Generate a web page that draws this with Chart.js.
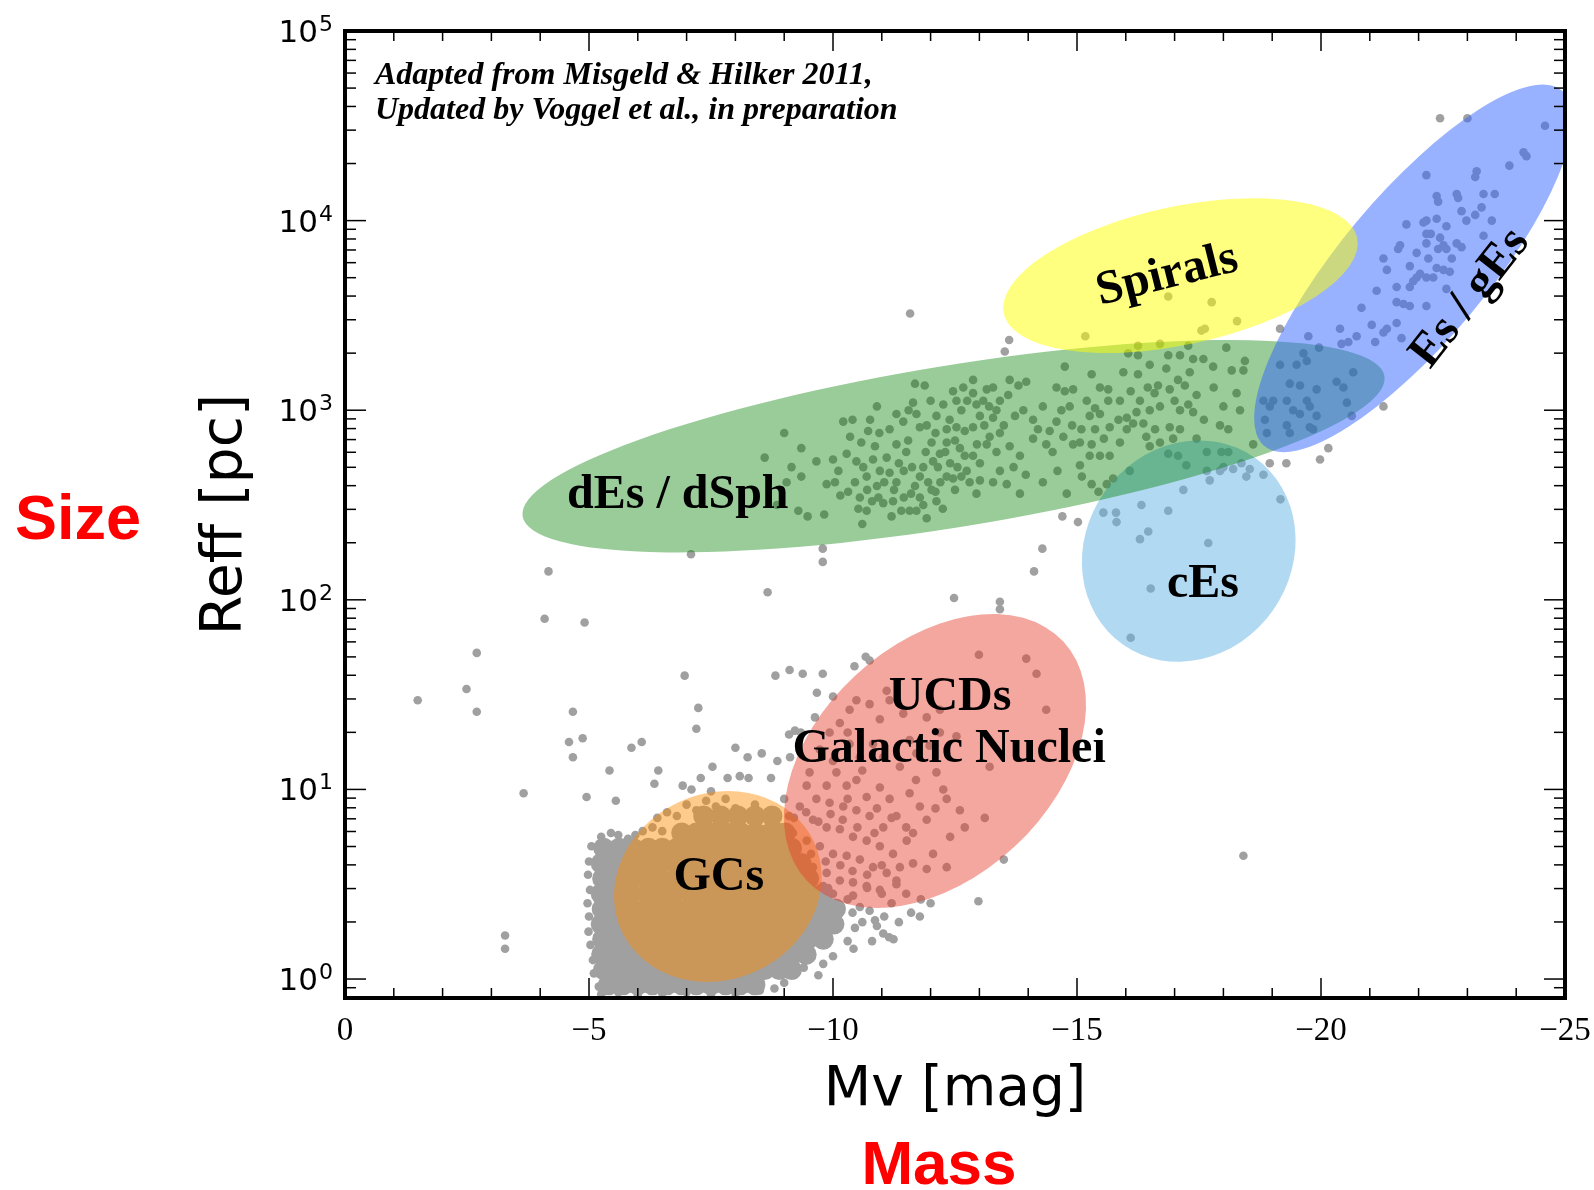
<!DOCTYPE html>
<html>
<head>
<meta charset="utf-8">
<title>Size vs Mass</title>
<script src="https://cdn.jsdelivr.net/npm/chart.js@4.4.1/dist/chart.umd.min.js"></script>
<style>
  html, body { margin: 0; padding: 0; background: #fff; }
  canvas { display: block; }
</style>
</head>
<body>
<canvas id="sizeMass" width="1594" height="1190"></canvas>
<script>
// all points are [Mv, log10 Reff]

// isolated objects outside the main clouds
const fieldPts = [
  [-1.49,1.47],[-2.49,1.53],[-2.70,1.41],[-2.70,1.72],[-3.28,0.23],[-3.28,0.16],[-3.66,0.98],
  [-4.17,2.15],[-4.09,1.90],[-4.91,1.88],[-4.67,1.41],[-4.59,1.25],[-4.87,1.27],[-4.67,1.17],
  [-4.95,0.96],[-5.55,0.94],[-5.42,1.10],[-5.87,1.22],[-6.08,1.25],[-6.42,1.10],[-6.34,1.03],
  [-6.96,1.60],[-7.24,1.43],[-7.20,1.32],[-7.53,1.12],[-7.29,1.06],[-6.92,1.02],[-8.00,1.22],
  [-8.25,1.17],[-8.54,1.19],[-7.84,1.06],[-8.09,1.07],[-8.27,1.06],[-8.73,1.06],[-8.82,1.60],
  [-9.11,1.63],[-9.38,1.61],[-9.79,1.61],[-9.67,1.51],[-9.63,1.38],[-8.86,1.15],[-9.10,1.29],
  [-9.34,1.30],[-8.66,2.04],[-9.79,2.27],[-9.79,2.20],[-7.09,2.24],[-11.58,3.51],[-12.48,2.01],
  [-13.42,1.99],[-13.42,1.95],[-13.50,0.63],[-12.98,0.41],[-18.41,0.65],[-13.61,3.37],[-13.52,3.31],
  [-22.44,4.54],[-10.67,1.70],[-10.44,1.65],[-10.00,1.49]
];

// globular clusters: dense core (drawn with big dots) and ragged edges
const gcCoreLogR = [0.86, 0.77, 0.69, 0.61, 0.53, 0.45, 0.37, 0.29, 0.21, 0.13, 0.05, -0.03];
const gcCoreMv = [
  [-7.35,-7.70,-8.05,-8.40,-8.75],
  [-6.90,-7.20,-7.50,-7.82,-8.12,-8.42,-8.72,-9.02],
  [-5.30,-5.62,-5.90,-6.22,-6.50,-6.80,-7.12,-7.40,-7.70,-8.02,-8.30,-8.62,-8.90,-9.15],
  [-5.25,-5.55,-5.85,-6.15,-6.45,-6.78,-7.05,-7.35,-7.68,-7.95,-8.28,-8.55,-8.85,-9.15,-9.35],
  [-5.28,-5.58,-5.88,-6.20,-6.48,-6.80,-7.10,-7.42,-7.70,-8.00,-8.32,-8.60,-8.92,-9.20,-9.50],
  [-5.25,-5.55,-5.85,-6.18,-6.45,-6.75,-7.08,-7.38,-7.66,-7.98,-8.28,-8.58,-8.88,-9.18,-9.48,-9.80],
  [-5.27,-5.57,-5.87,-6.17,-6.47,-6.78,-7.07,-7.37,-7.68,-7.97,-8.27,-8.57,-8.87,-9.17,-9.47,-9.77,-10.05],
  [-5.25,-5.56,-5.86,-6.16,-6.46,-6.76,-7.06,-7.36,-7.66,-7.96,-8.26,-8.56,-8.86,-9.16,-9.46,-9.76,-10.02],
  [-5.28,-5.58,-5.88,-6.18,-6.48,-6.78,-7.08,-7.38,-7.68,-7.98,-8.28,-8.58,-8.88,-9.18,-9.48,-9.80],
  [-5.26,-5.56,-5.86,-6.16,-6.46,-6.76,-7.06,-7.36,-7.66,-7.96,-8.26,-8.56,-8.86,-9.16,-9.45],
  [-5.30,-5.60,-5.90,-6.20,-6.50,-6.80,-7.10,-7.40,-7.70,-8.00,-8.30,-8.60,-8.90,-9.15],
  [-5.40,-5.70,-6.00,-6.30,-6.60,-6.90,-7.20,-7.50,-7.80,-8.10,-8.40]
];
const gcPts = [
  [-5.05,0.70],[-5.00,0.62],[-4.98,0.55],[-5.02,0.47],[-4.97,0.40],[-5.00,0.33],[-4.99,0.25],
  [-5.03,0.18],[-5.08,0.10],[-5.10,0.03],[-5.20,-0.04],[-5.25,-0.08],
  [-5.25,0.75],[-5.45,0.77],[-5.60,0.76],[-5.80,0.74],[-5.95,0.76],[-6.10,0.78],[-6.30,0.80],
  [-6.40,0.85],[-6.60,0.88],[-6.80,0.86],[-7.00,0.92],[-7.20,0.89],[-7.40,0.94],[-7.60,0.91],
  [-7.80,0.95],[-8.00,0.90],[-8.20,0.87],[-8.40,0.92],[-8.60,0.85],[-8.80,0.88],[-6.90,0.80],
  [-7.30,0.82],[-7.70,0.80],[-8.10,0.79],[-8.50,0.78],[-6.50,0.78],[-8.90,0.80],[-9.10,0.86],
  [-9.00,0.95],[-7.50,0.99],[-7.10,1.00],
  [-5.60,-0.07],[-6.00,-0.08],[-6.50,-0.075],[-7.00,-0.07],[-7.50,-0.08],[-8.00,-0.075],
  [-8.50,-0.06],[-8.80,-0.05],[-9.00,-0.02],[-9.20,0.02],[-9.40,0.06],
  [-10.30,0.42],[-10.40,0.35],[-10.45,0.27],[-10.30,0.20],[-10.42,0.16],[-10.60,0.30],[-10.75,0.36],
  [-10.90,0.28],[-11.05,0.33],[-11.20,0.40],[-10.80,0.20],[-11.35,0.30],[-11.15,0.22],[-9.80,0.08],
  [-10.00,0.12],[-9.70,0.02],[-11.60,0.35],[-11.50,0.45],[-11.80,0.42],[-11.30,0.50],[-11.00,0.45],
  [-10.70,0.48],[-12.00,0.40],[-11.78,0.33],[-11.03,0.24],[-11.24,0.21],[-10.86,0.31],[-10.55,0.38]
];

// ultra compact dwarfs and nuclei
const ucdPts = [
  [-12.99,1.71],[-13.96,1.69],[-14.17,1.61],[-14.37,1.42],[-13.21,1.12],[-12.60,0.89],[-13.11,0.85],
  [-12.26,1.00],[-12.33,0.95],[-12.12,1.09],[-11.98,1.23],[-11.57,1.26],[-12.19,1.30],[-12.53,1.28],
  [-11.71,1.19],[-11.37,1.12],[-11.03,1.17],[-10.82,1.24],[-10.55,1.17],[-10.34,1.24],[-10.96,1.37],
  [-10.75,1.45],[-10.48,1.47],[-10.34,1.42],[-10.14,1.35],[-9.93,1.30],[-9.73,1.21],[-9.52,1.09],
  [-9.87,1.02],[-10.07,1.09],[-10.28,1.02],[-10.48,1.05],[-10.69,0.96],[-10.96,1.01],[-11.16,0.95],
  [-11.30,0.86],[-11.03,0.80],[-10.75,0.86],[-10.48,0.89],[-10.21,0.91],[-9.93,0.93],[-9.66,0.95],
  [-9.46,1.02],[-9.32,0.91],[-9.59,0.84],[-9.87,0.80],[-10.14,0.79],[-10.41,0.75],[-10.69,0.73],
  [-10.96,0.70],[-11.23,0.66],[-11.51,0.73],[-11.64,0.77],[-11.92,0.84],[-11.78,0.91],[-11.57,0.98],
  [-12.05,0.66],[-12.33,0.59],[-11.92,0.58],[-11.64,0.61],[-11.37,0.59],[-11.10,0.56],[-10.82,0.59],
  [-10.55,0.63],[-10.28,0.65],[-10.00,0.66],[-9.73,0.70],[-9.46,0.73],[-9.18,0.77],[-9.32,0.63],
  [-9.59,0.59],[-9.87,0.56],[-10.14,0.52],[-10.41,0.51],[-10.69,0.49],[-10.96,0.47],[-10.41,0.44],
  [-10.00,0.45],[-9.80,0.49],[-9.59,0.45],[-9.32,0.49],[-9.12,0.56],[-12.19,1.42],[-11.92,1.38],
  [-11.44,1.40],[-11.16,1.47],[-9.22,1.31],[-9.12,1.17],[-10.75,1.68],[-11.10,1.52],
  [-9.20,0.85],[-9.45,0.88],[-9.70,0.83],[-9.95,0.87],[-10.20,0.84],[-10.50,0.80],[-10.85,0.77],
  [-9.25,0.70],[-9.55,0.66],[-9.85,0.62],[-10.15,0.60],[-10.40,0.57],[-10.70,0.55],[-11.00,0.60],
  [-11.30,0.52],[-9.60,0.52],[-9.90,0.48],[-10.30,0.95],[-10.60,1.10],[-10.90,0.90],[-11.20,0.85],
  [-11.50,0.80],[-11.70,1.05],[-12.10,0.90],[-12.40,0.75],[-12.70,0.80],[-10.00,1.15],[-10.30,1.30]
];

// dwarf ellipticals / spheroidals
const dwarfPts = [
  [-8.60,2.75],[-9.05,2.62],[-8.85,2.50],[-9.00,2.88],[-9.15,2.70],
  [-9.35,2.80],[-9.35,2.65],[-9.29,2.47],[-9.48,2.44],[-9.82,2.45],[-9.66,2.73],[-10.00,2.74],
  [-10.21,2.94],[-10.40,2.95],[-10.76,2.95],[-10.72,2.89],[-10.58,2.83],[-10.28,2.77],[-10.48,2.73],
  [-10.11,2.68],[-9.87,2.61],[-10.04,2.62],[-10.31,2.57],[-10.55,2.54],[-10.52,2.48],[-10.69,2.47],
  [-10.93,2.54],[-11.03,2.51],[-11.23,2.52],[-11.30,2.62],[-11.16,2.67],[-10.96,2.68],[-10.82,2.74],
  [-10.69,2.65],[-10.86,2.81],[-11.16,2.90],[-11.30,2.82],[-11.44,2.94],[-11.54,2.84],[-11.64,3.04],
  [-11.68,3.14],[-11.88,3.13],[-11.71,2.98],[-11.78,2.91],[-11.92,2.92],[-12.02,2.83],[-12.12,2.97],
  [-12.26,3.03],[-12.33,2.90],[-12.39,2.95],[-12.46,3.10],[-12.53,3.05],[-12.63,3.00],[-12.67,3.12],
  [-12.87,3.16],[-12.87,3.09],[-12.94,3.03],[-13.08,3.05],[-13.15,3.11],[-13.28,3.12],[-13.62,3.16],
  [-13.80,3.13],[-13.96,3.15],[-13.59,3.08],[-13.42,3.05],[-13.35,3.00],[-13.28,2.96],[-13.01,2.97],
  [-12.87,2.91],[-12.70,2.89],[-12.53,2.91],[-12.50,2.84],[-12.33,2.83],[-12.19,2.77],[-12.05,2.73],
  [-11.85,2.70],[-11.78,2.65],[-11.68,2.60],[-11.78,2.54],[-11.92,2.43],[-11.71,2.47],[-11.57,2.47],
  [-11.40,2.47],[-12.12,2.52],[-12.02,2.58],[-12.33,2.65],[-12.46,2.64],[-12.63,2.65],[-12.74,2.68],
  [-12.87,2.76],[-13.01,2.72],[-13.15,2.82],[-13.21,2.86],[-13.42,2.88],[-13.62,2.81],[-13.83,2.76],
  [-13.42,2.68],[-13.28,2.62],[-13.56,2.61],[-13.83,2.56],[-13.01,2.63],[-12.94,2.56],[-12.50,2.58],
  [-12.70,2.76],[-13.73,2.97],[-13.90,3.00],[-14.10,2.95],[-14.20,2.90],[-14.10,2.85],[-14.37,2.82],
  [-14.44,2.89],[-14.58,2.94],[-14.68,3.00],[-14.58,3.12],[-14.75,3.10],[-14.85,3.02],[-14.72,2.86],
  [-14.75,3.23],[-14.92,3.11],[-15.30,3.19],[-15.47,3.12],[-15.64,3.11],[-15.37,3.01],[-15.26,2.97],
  [-15.37,2.90],[-15.30,2.82],[-15.06,2.83],[-15.06,2.71],[-14.92,2.82],[-15.09,2.90],[-15.47,2.98],
  [-15.64,3.05],[-15.67,2.91],[-15.88,3.05],[-16.02,2.96],[-16.22,2.99],[-16.29,3.05],[-16.02,2.90],
  [-16.15,2.93],[-15.88,2.83],[-15.47,2.76],[-15.67,2.76],[-15.26,2.76],[-15.95,3.20],[-16.05,3.30],
  [-16.25,3.29],[-16.25,3.34],[-16.70,3.35],[-16.25,3.19],[-16.49,3.24],[-16.83,3.22],[-16.87,3.29],
  [-17.11,3.29],[-17.28,3.34],[-17.38,3.27],[-17.31,3.20],[-17.59,3.27],[-17.79,3.23],[-18.06,3.33],
  [-18.17,3.21],[-18.27,3.09],[-18.41,3.21],[-18.44,3.26],[-16.66,3.13],[-16.59,3.09],[-16.70,3.02],
  [-16.90,3.11],[-17.07,3.16],[-17.21,3.13],[-17.28,3.03],[-17.38,2.99],[-17.11,3.00],[-16.49,3.00],
  [-16.36,2.93],[-16.42,2.86],[-16.90,2.91],[-17.11,2.90],[-16.97,2.85],[-16.70,2.83],[-16.49,2.81],
  [-16.87,2.77],[-17.07,2.76],[-17.24,2.71],[-17.66,2.78],[-18.00,2.70],[-18.20,2.69],[-17.93,2.92],
  [-18.10,2.90],[-18.34,3.00],[-18.61,2.82],[-16.08,2.68],[-15.74,2.64],[-15.61,2.61],[-15.30,2.61],
  [-15.44,2.57],[-14.79,2.56],[-17.66,2.68],[-18.47,2.65],[-18.95,2.72],
  [-10.90,2.60],[-11.10,2.75],[-11.45,2.68],[-11.60,2.56],[-11.90,2.78],[-12.20,2.62],[-12.40,2.72],
  [-11.30,2.98],[-10.70,2.58],[-11.20,2.44],[-12.10,2.88],[-12.60,2.80],[-10.35,2.86],[-10.90,3.02],
  [-10.15,2.55],[-10.45,2.62],[-10.62,2.70],[-10.80,2.52],[-11.05,2.62],[-11.35,2.72],[-11.50,2.78],
  [-11.62,2.70],[-11.95,2.62],[-12.15,2.70],[-12.30,2.78],[-12.55,2.70],[-12.80,2.62],[-12.95,2.82],
  [-13.10,2.92],[-13.35,2.78],[-13.50,2.92],[-13.70,2.70],[-11.25,2.58],[-11.45,2.54],[-11.85,2.50],
  [-12.25,2.48],[-10.95,2.88],[-11.55,3.00],[-12.00,3.05],[-12.75,3.05],[-13.20,3.02],[-14.30,3.02],
  [-14.50,2.78],[-14.90,2.92],[-15.20,3.05],[-15.55,2.85],[-15.85,2.95],[-16.10,3.10],[-16.45,3.12],
  [-16.60,2.90],[-17.00,3.05],[-17.45,3.08],[-17.60,2.95],[-17.80,3.12],[-18.00,3.02],[-17.45,2.85],
  [-15.10,2.65],[-14.60,2.68],[-14.30,2.62],[-13.95,2.66],[-12.10,2.57],[-10.60,2.40]
];

// compact ellipticals and neighbours
const cePts = [
  [-17.96,2.78],[-18.10,2.78],[-18.37,2.72],[-18.54,2.69],[-18.82,2.66],[-17.93,2.68],[-17.72,2.63],
  [-17.18,2.58],[-16.87,2.47],[-16.32,2.50],[-16.46,2.36],[-16.29,2.32],[-15.80,2.46],[-15.54,2.46],
  [-15.81,2.41],[-17.69,2.30],[-19.17,2.53],[-19.29,2.72],[-19.98,2.74],[-20.15,2.80],[-14.70,2.44],
  [-15.02,2.41],[-14.29,2.27],[-14.12,2.15],[-16.51,2.06],[-16.10,1.80]
];

// spirals
const spiralPts = [
  [-16.87,3.60],[-17.76,3.57],[-18.28,3.47],[-17.55,3.42],[-17.62,3.43],[-15.17,3.39]
];

// giant ellipticals
const giantPts = [
  [-23.00,4.54],[-24.59,4.50],[-24.15,4.36],[-24.21,4.34],[-23.86,4.29],[-22.16,4.24],[-23.19,4.26],
  [-23.16,4.23],[-23.33,4.14],[-23.56,4.14],[-22.37,4.13],[-22.40,4.10],[-22.78,4.14],[-22.81,4.12],
  [-22.88,4.05],[-23.16,4.03],[-23.29,4.07],[-22.98,4.00],[-23.50,4.00],[-22.16,4.00],[-22.37,4.01],
  [-22.10,3.99],[-21.75,3.98],[-22.57,3.97],[-22.16,3.93],[-22.25,3.93],[-22.44,3.91],[-22.51,3.87],
  [-22.57,3.85],[-22.40,3.85],[-22.16,3.88],[-22.78,3.88],[-22.88,3.86],[-23.33,3.92],[-21.62,3.87],
  [-21.58,3.85],[-21.96,3.83],[-22.20,3.80],[-22.68,3.80],[-21.28,3.80],[-21.35,3.74],[-21.82,3.76],
  [-22.37,3.75],[-22.51,3.74],[-22.64,3.73],[-22.03,3.72],[-21.96,3.70],[-22.16,3.70],[-22.30,3.70],
  [-21.55,3.65],[-21.82,3.65],[-21.89,3.68],[-21.14,3.63],[-22.57,3.64],[-21.55,3.57],[-21.69,3.56],
  [-21.82,3.55],[-20.83,3.54],[-22.16,3.55],[-21.55,3.46],[-21.04,3.45],[-21.35,3.43],[-21.28,3.41],
  [-20.39,3.43],[-21.11,3.36],[-21.65,3.38],[-20.73,3.39],[-20.56,3.36],[-20.42,3.35],[-19.74,3.39],
  [-19.96,3.33],[-19.16,3.24],[-19.50,3.24],[-19.64,3.30],[-19.71,3.26],[-19.36,3.14],[-19.57,3.13],
  [-19.91,3.11],[-20.32,3.15],[-20.46,3.12],[-20.66,3.20],[-19.02,3.05],[-18.82,3.05],[-18.95,3.02],
  [-19.30,3.05],[-19.71,3.05],[-19.43,3.00],[-19.57,2.98],[-19.77,3.02],[-19.91,2.97],[-19.30,2.92],
  [-19.77,2.91],[-19.84,2.90],[-20.53,3.04],[-20.63,2.97],[-21.28,3.02],[-18.85,2.95],[-18.89,2.88],
  [-19.36,2.88],[-19.16,3.43]
];

// regions: centre and end of the long axis in data units, short/long axis ratio
const regionNames   = ['GCs', 'UCDs', 'cEs', 'dEs / dSph', 'Es / gEs', 'Spirals'];
const regionMv      = [-7.64, -12.09, -17.29, -12.47, -21.89, -17.12];
const regionLogR    = [0.488, 1.15, 2.257, 2.81, 3.748, 3.71];
const regionEndMv   = [-9.61, -14.72, -18.64, -21.30, -24.94, -20.74];
const regionEndLogR = [0.724, 1.78, 2.75, 3.18, 4.685, 3.909];
const regionRatio   = [0.877, 0.667, 0.90, 0.185, 0.316, 0.382];

const xMajorTicks = [0, -5, -10, -15, -20, -25];
const xMinorTicks = [-1,-2,-3,-4,-6,-7,-8,-9,-11,-12,-13,-14,-16,-17,-18,-19,-21,-22,-23,-24];
const yMajorTicks = [1, 10, 100, 1000, 10000, 100000];
const yMinorTicks = [0.8,0.9,2,3,4,5,6,7,8,9,20,30,40,50,60,70,80,90,200,300,400,500,600,700,800,900,
  2000,3000,4000,5000,6000,7000,8000,9000,20000,30000,40000,50000,60000,70000,80000,90000];

const regionColours = {
  'GCs': 'rgba(255,140,0,0.45)',
  'UCDs': 'rgba(230,60,40,0.45)',
  'cEs': 'rgba(100,180,230,0.5)',
  'dEs / dSph': 'rgba(0,128,0,0.4)',
  'Es / gEs': 'rgba(51,102,255,0.5)',
  'Spirals': 'rgba(255,255,0,0.5)'
};

// label anchors (baseline centre) in data units, angle in degrees
const labelSpots = [
  ['dEs / dSph', -6.82, 2.484, 0],
  ['UCDs', -12.40, 1.419, 0],
  ['Galactic Nuclei', -12.38, 1.145, 0],
  ['GCs', -7.66, 0.469, 0],
  ['cEs', -17.58, 2.015, 0],
  ['Spirals', -16.91, 3.647, -14],
  ['Es / gEs', -23.26, 3.55, -52]
];

function toXY(list) {
  return list.map(p => ({ x: p[0], y: Math.pow(10, p[1]) }));
}

let corePts = [];
gcCoreLogR.forEach((lr, i) => {
  gcCoreMv[i].forEach(mv => corePts.push([mv, lr]));
});

const allPts = [].concat(fieldPts, gcPts, ucdPts, dwarfPts, cePts, spiralPts, giantPts);

const regionPlugin = {
  id: 'regions',
  afterDatasetsDraw(chart) {
    const ctx = chart.ctx, a = chart.chartArea;
    const xs = chart.scales.x, ys = chart.scales.y;
    ctx.save();
    ctx.beginPath();
    ctx.rect(a.left, a.top, a.right - a.left, a.bottom - a.top);
    ctx.clip();
    for (let i = 0; i < regionNames.length; i++) {
      const cx = xs.getPixelForValue(regionMv[i]);
      const cy = ys.getPixelForValue(Math.pow(10, regionLogR[i]));
      const ex = xs.getPixelForValue(regionEndMv[i]);
      const ey = ys.getPixelForValue(Math.pow(10, regionEndLogR[i]));
      const r = Math.hypot(ex - cx, ey - cy);
      ctx.beginPath();
      ctx.ellipse(cx, cy, r, r * regionRatio[i], Math.atan2(ey - cy, ex - cx), 0, 2 * Math.PI);
      ctx.fillStyle = regionColours[regionNames[i]];
      ctx.fill();
    }
    ctx.restore();
  },
  afterDraw(chart) {
    const ctx = chart.ctx, a = chart.chartArea;
    const xs = chart.scales.x, ys = chart.scales.y;
    ctx.save();
    ctx.strokeStyle = '#000';
    ctx.lineWidth = 1.5;
    function line(x1, y1, x2, y2) {
      ctx.beginPath(); ctx.moveTo(x1, y1); ctx.lineTo(x2, y2); ctx.stroke();
    }
    xMajorTicks.forEach(v => {
      const px = xs.getPixelForValue(v);
      line(px, a.bottom, px, a.bottom - 20);
      line(px, a.top, px, a.top + 20);
    });
    xMinorTicks.forEach(v => {
      const px = xs.getPixelForValue(v);
      line(px, a.bottom, px, a.bottom - 10);
      line(px, a.top, px, a.top + 10);
    });
    yMajorTicks.forEach(v => {
      const py = ys.getPixelForValue(v);
      line(a.left, py, a.left + 21, py);
      line(a.right, py, a.right - 21, py);
    });
    yMinorTicks.forEach(v => {
      const py = ys.getPixelForValue(v);
      if (py > a.bottom - 1) return;
      line(a.left, py, a.left + 11, py);
      line(a.right, py, a.right - 11, py);
    });
    ctx.lineWidth = 4;
    ctx.strokeRect(a.left, a.top, a.right - a.left, a.bottom - a.top);

    ctx.fillStyle = '#000';
    // x tick labels
    ctx.font = '33px "Liberation Serif"';
    ctx.textAlign = 'center';
    ctx.textBaseline = 'alphabetic';
    xMajorTicks.forEach(v => {
      const txt = v === 0 ? '0' : '\u2212' + Math.abs(v);
      ctx.fillText(txt, xs.getPixelForValue(v), a.bottom + 42);
    });
    // y tick labels as 10^n
    yMajorTicks.forEach(v => {
      const py = ys.getPixelForValue(v);
      const ex = String(Math.round(Math.log10(v)));
      ctx.textAlign = 'right';
      ctx.font = '22px "DejaVu Sans"';
      const ew = ctx.measureText(ex).width;
      ctx.fillText(ex, a.left - 12, py);
      ctx.font = '31px "DejaVu Sans"';
      ctx.fillText('10', a.left - 13 - ew, py + 11);
    });

    // axis titles
    ctx.font = '55px "DejaVu Sans"';
    ctx.textAlign = 'center';
    ctx.fillText('Mv [mag]', (a.left + a.right) / 2, a.bottom + 107);
    ctx.save();
    ctx.translate(a.left - 119, (a.top + a.bottom) / 2);
    ctx.rotate(-Math.PI / 2);
    ctx.textBaseline = 'middle';
    ctx.font = '57px "DejaVu Sans"';
    ctx.fillText('Reff [pc]', 0, 0);
    ctx.restore();

    // red words
    ctx.fillStyle = '#ff0000';
    ctx.font = 'bold 63px "Liberation Sans"';
    ctx.textAlign = 'left';
    ctx.fillText('Size', 15, 539);
    ctx.textAlign = 'center';
    ctx.font = 'bold 62px "Liberation Sans"';
    ctx.fillText('Mass', a.left + 594, a.bottom + 186);

    // note
    ctx.fillStyle = '#000';
    ctx.font = 'italic bold 32px "Liberation Serif"';
    ctx.textAlign = 'left';
    ctx.fillText('Adapted from Misgeld & Hilker 2011,', a.left + 30, a.top + 53);
    ctx.fillText('Updated by Voggel et al., in preparation', a.left + 30, a.top + 88);

    // region labels
    ctx.font = 'bold 48px "Liberation Serif"';
    ctx.textAlign = 'center';
    labelSpots.forEach(s => {
      ctx.save();
      ctx.translate(xs.getPixelForValue(s[1]), ys.getPixelForValue(Math.pow(10, s[2])));
      ctx.rotate(s[3] * Math.PI / 180);
      ctx.fillText(s[0], 0, 0);
      ctx.restore();
    });
    ctx.restore();
  }
};

new Chart(document.getElementById('sizeMass'), {
  type: 'scatter',
  data: {
    datasets: [
      {
        label: 'GC core',
        data: toXY(corePts),
        backgroundColor: '#a0a0a0',
        borderWidth: 0,
        pointRadius: 10.5,
        pointHoverRadius: 10.5,
        clip: 0
      },
      {
        label: 'objects',
        data: toXY(allPts),
        backgroundColor: '#a0a0a0',
        borderWidth: 0,
        pointRadius: 4.3,
        pointHoverRadius: 4.3,
        clip: 0
      }
    ]
  },
  options: {
    responsive: false,
    animation: false,
    devicePixelRatio: 1,
    layout: { padding: { left: 345, right: 29, top: 31, bottom: 192 } },
    scales: {
      x: { type: 'linear', min: -25, max: 0, reverse: true, display: false },
      y: { type: 'logarithmic', min: 0.7943, max: 100000, display: false }
    },
    plugins: {
      legend: { display: false },
      tooltip: { enabled: false }
    },
    events: []
  },
  plugins: [regionPlugin]
});
</script>
</body>
</html>
